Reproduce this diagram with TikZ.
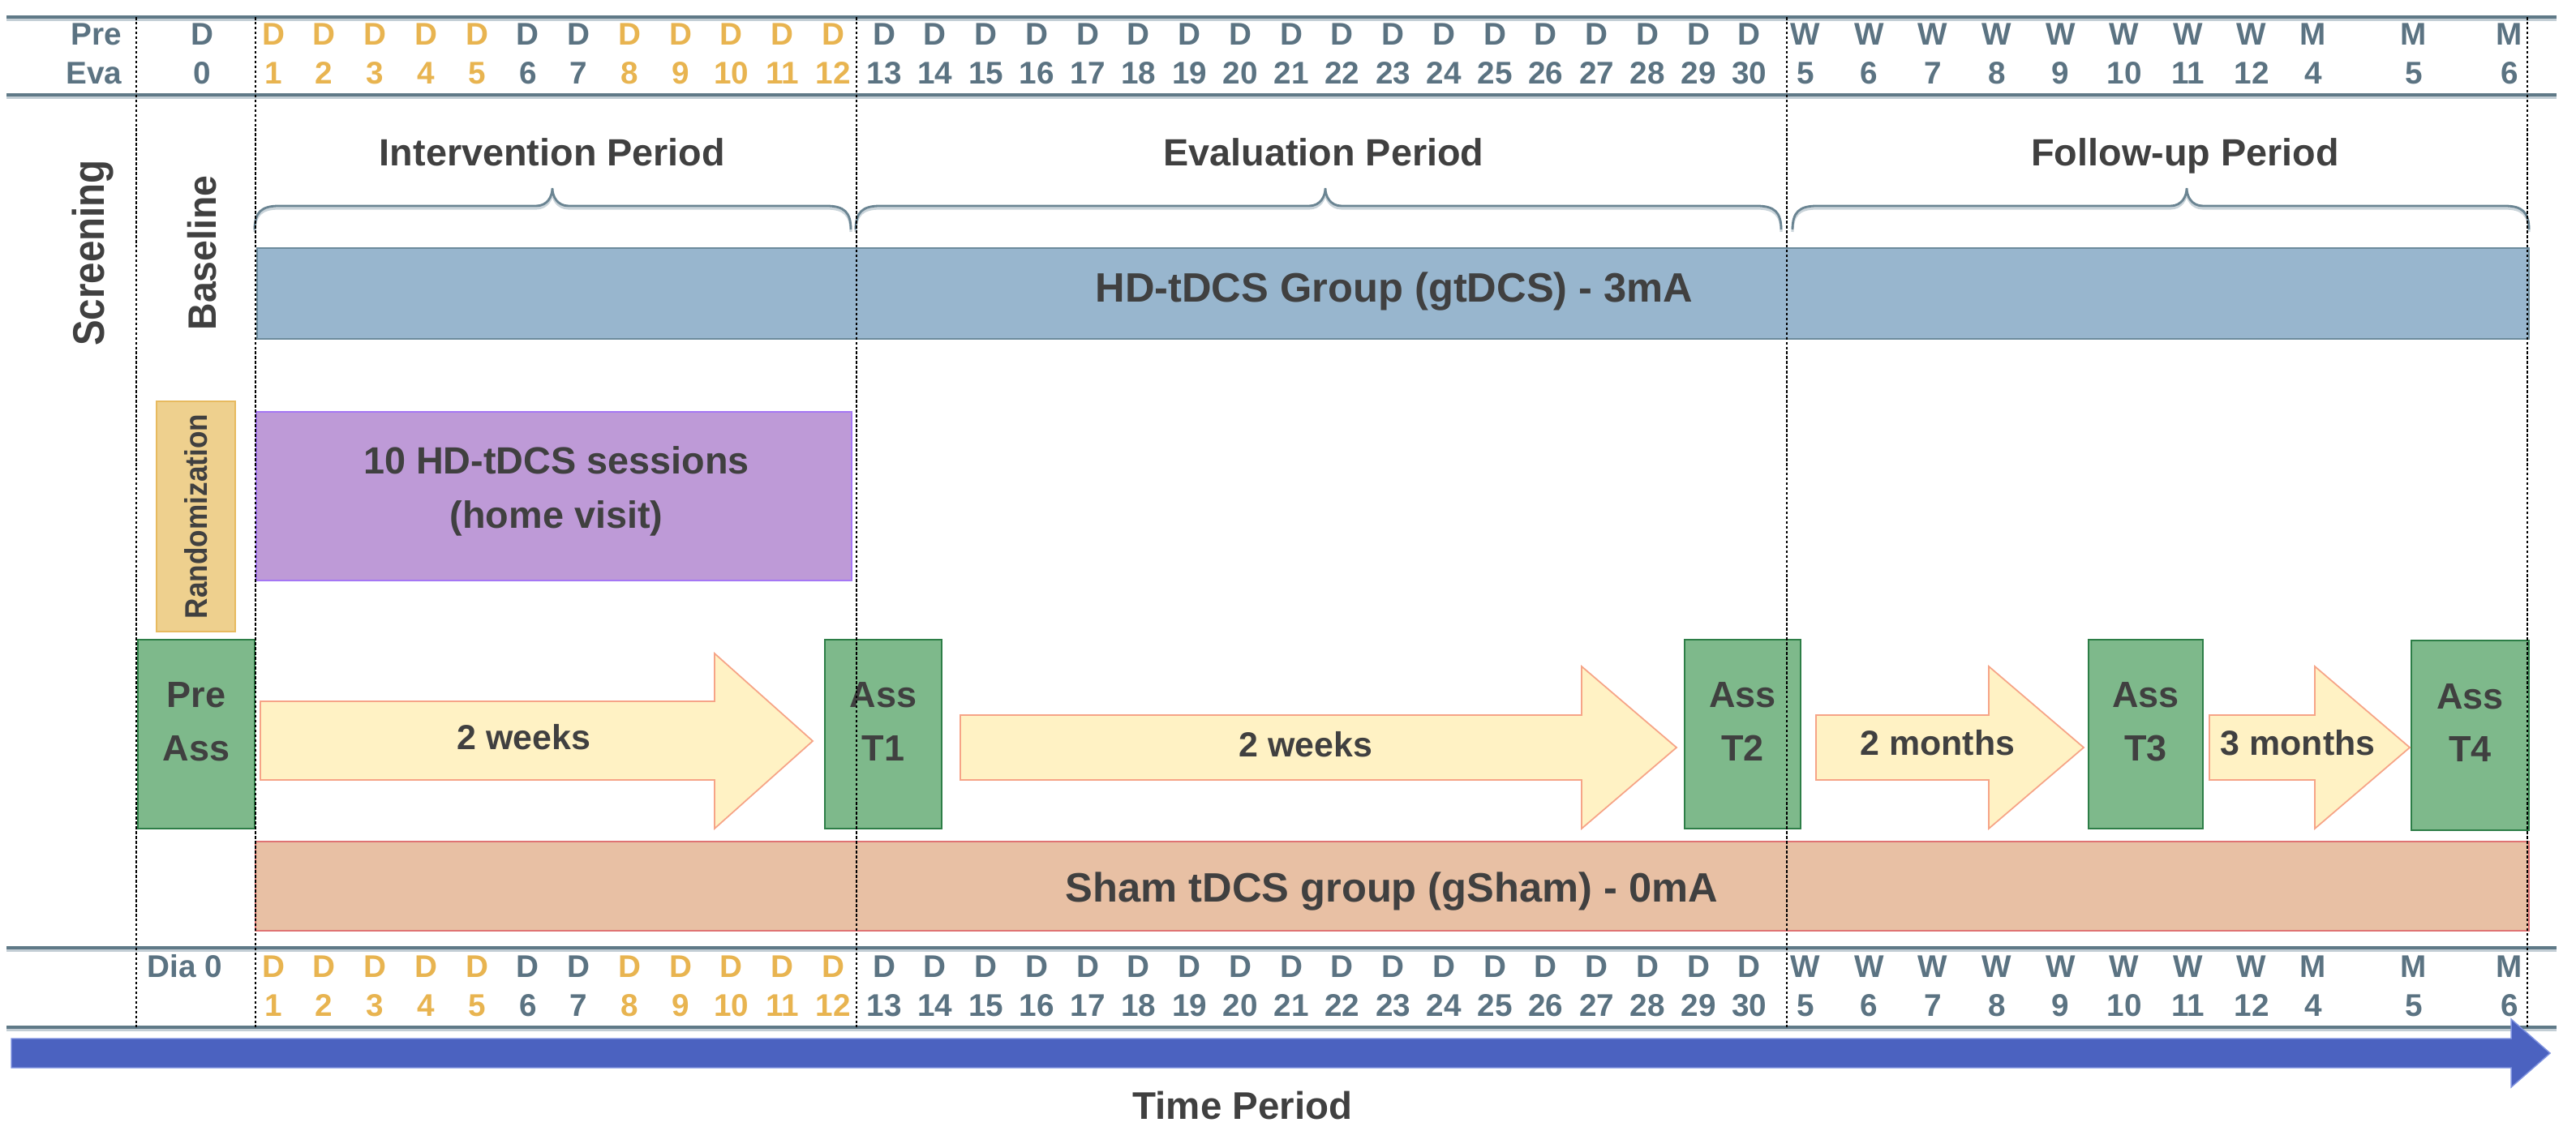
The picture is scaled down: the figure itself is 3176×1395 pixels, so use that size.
\documentclass[tikz,border=0pt]{standalone}
\usepackage{fontspec}
\setmainfont{Liberation Sans}
\usepackage{graphicx}
\usetikzlibrary{fit}
\definecolor{hdrgrey}{HTML}{5B7382}
\definecolor{hdrorange}{HTML}{E8B450}
\definecolor{linegrey}{HTML}{5F7987}
\definecolor{lineshadow}{HTML}{C3CED5}
\definecolor{txt}{HTML}{404040}
\definecolor{bluefill}{HTML}{98B6CE}
\definecolor{blueedge}{HTML}{6C8B9C}
\definecolor{purplefill}{HTML}{BE9AD7}
\definecolor{purpleedge}{HTML}{A577F4}
\definecolor{randfill}{HTML}{EED08E}
\definecolor{randedge}{HTML}{E7BA5F}
\definecolor{greenfill}{HTML}{7EB98B}
\definecolor{greenedge}{HTML}{2D7E47}
\definecolor{arrowfill}{HTML}{FFF2C4}
\definecolor{arrowedge}{HTML}{F6A487}
\definecolor{shamfill}{HTML}{E8C0A4}
\definecolor{shamedge}{HTML}{DF7373}
\definecolor{timeblue}{HTML}{4B62C0}
\definecolor{timeedge}{HTML}{7F93E0}
\definecolor{bracecol}{HTML}{6A8492}
\definecolor{braceshadow}{HTML}{CAD4DA}
\newcommand\tlbrace[3]{%
  \draw[braceshadow, line width=0.9pt] (#1,286) .. controls (#1,265) and (#1+8,257) .. (#1+30,257) -- (#2-20,257) .. controls (#2-6,257) and (#2,245) .. (#2,235) .. controls (#2,245) and (#2+6,257) .. (#2+20,257) -- (#3-30,257) .. controls (#3-8,257) and (#3,265) .. (#3,286);
  \draw[bracecol, line width=0.8pt] (#1,283) .. controls (#1,262) and (#1+8,254) .. (#1+30,254) -- (#2-20,254) .. controls (#2-6,254) and (#2,242) .. (#2,232) .. controls (#2,242) and (#2+6,254) .. (#2+20,254) -- (#3-30,254) .. controls (#3-8,254) and (#3,262) .. (#3,283);
}
\begin{document}
\begin{tikzpicture}[x=0.01cm,y=-0.01cm,
  hdr/.style={inner sep=0pt, font=\bfseries\fontsize{11}{13}\selectfont, text=hdrgrey},
  hline/.style={line width=0.9pt, draw=linegrey},
  hshadow/.style={line width=0.9pt, draw=lineshadow},
  vline/.style={line width=0.5pt, black, dash pattern=on 1pt off 0.7pt},
  period/.style={inner sep=0pt, text=txt, font=\bfseries\fontsize{13.3}{15}\selectfont},
  phase/.style={inner sep=0pt, text=txt, rotate=90},
  barbox/.style={inner sep=0pt, line width=0.6pt},
  bartext/.style={inner sep=0pt, text=txt, font=\bfseries\fontsize{14.4}{17}\selectfont},
  greenbox/.style={inner sep=0pt, line width=0.6pt, draw=greenedge, fill=greenfill, text=txt, align=center, font=\bfseries\fontsize{12.8}{18.7}\selectfont},
  blockarrow/.style={fill=arrowfill, draw=arrowedge, line width=0.5pt, line join=miter},
  arrowtext/.style={inner sep=0pt, text=txt, font=\bfseries\fontsize{12.2}{14}\selectfont}]
\useasboundingbox (0,0) rectangle (3176,1395);

% header lines
\foreach \yy in {21,117,1169,1267} {
  \draw[hshadow] (8,\yy+3) -- (3152,\yy+3);
  \draw[hline] (8,\yy) -- (3152,\yy);
}

% header texts
\node[hdr, anchor=east] (pre) at (151,42) {Pre};
\node[hdr, anchor=east] (eva) at (151,90) {Eva};
\node[hdr] (d0) at (249,42) {D};
\node[hdr] (n0) at (249,90) {0};
\node[hdr] (dia) at (228,1192) {Dia 0};
\foreach \i in {1,...,30} {
  \pgfmathsetmacro{\xx}{337+(\i-1)*62.75}
  \def\col{hdrgrey}
  \ifnum\i<6 \def\col{hdrorange}\fi
  \ifnum\i>7 \ifnum\i<13 \def\col{hdrorange}\fi\fi
  \node[hdr, text=\col] (tD\i) at (\xx,42) {D};
  \node[hdr, text=\col] (tN\i) at (\xx,90) {\i};
  \node[hdr, text=\col] (bD\i) at (\xx,1192) {D};
  \node[hdr, text=\col] (bN\i) at (\xx,1240) {\i};
}
\foreach \w in {5,...,12} {
  \pgfmathsetmacro{\xx}{2226+(\w-5)*78.6}
  \node[hdr] (tW\w) at (\xx,42) {W};
  \node[hdr] (tWn\w) at (\xx,90) {\w};
  \node[hdr] (bW\w) at (\xx,1192) {W};
  \node[hdr] (bWn\w) at (\xx,1240) {\w};
}
\foreach \m/\xx in {4/2852,5/2976,6/3094} {
  \node[hdr] (tM\m) at (\xx,42) {M};
  \node[hdr] (tMn\m) at (\xx,90) {\m};
  \node[hdr] (bM\m) at (\xx,1192) {M};
  \node[hdr] (bMn\m) at (\xx,1240) {\m};
}

% phase labels
\node[phase, font=\bfseries\fontsize{13.5}{15}\selectfont] (screening) at (115,312) {\scalebox{1}[1.15]{Screening}};
\node[phase, font=\bfseries\fontsize{13.2}{15}\selectfont] (baseline) at (249,312) {\scalebox{1}[1.05]{Baseline}};

% period labels and braces
\node[period, anchor=base] (intper) at (681,205) {Intervention Period};
\node[period, anchor=base] (evaper) at (1632,205) {Evaluation Period};
\node[period, anchor=base] (folper) at (2694,205) {Follow-up Period};
\tlbrace{314}{681}{1049}
\tlbrace{1055}{1634}{2196}
\tlbrace{2210}{2696}{3118}

% group bars
\node[barbox, draw=blueedge, fill=bluefill, fit={(317,306) (3118,418)}] (gtdcs) {};
\node[bartext, anchor=base] (gtdcslbl) at (1719,373) {HD-tDCS Group (gtDCS) - 3mA};
\node[barbox, draw=shamedge, fill=shamfill, fit={(315,1038) (3118,1148)}] (gsham) {};
\node[bartext, anchor=base] (gshamlbl) at (1716,1112) {Sham tDCS group (gSham) - 0mA};

% randomization and sessions
\node[barbox, draw=randedge, fill=randfill, fit={(193,495) (290,779)}] (rand) {};
\node[phase, font=\bfseries\fontsize{10}{12}\selectfont] (randlbl) at (242,637) {\scalebox{1}[1.1]{Randomization}};
\node[barbox, draw=purpleedge, fill=purplefill, fit={(316,508) (1050,716)}] (sessions) {};
\node[inner sep=0pt, text=txt, align=center, font=\bfseries\fontsize{13.3}{19}\selectfont] (sesslbl) at (686,606) {10 HD-tDCS sessions\\(home visit)};

% assessments
\node[greenbox, fit={(170,789) (314,1022)}] (preass) {Pre\\Ass};
\node[greenbox, fit={(1017,789) (1161,1022)}] (asst1) {Ass\\T1};
\node[greenbox, fit={(2077,789) (2220,1022)}] (asst2) {Ass\\T2};
\node[greenbox, fit={(2575,789) (2716,1022)}] (asst3) {Ass\\T3};
\node[greenbox, fit={(2973,790) (3118,1024)}] (asst4) {Ass\\T4};

% block arrows
\draw[blockarrow] (321,865) -- (881,865) -- (881,806) -- (1002,914) -- (881,1022) -- (881,962) -- (321,962) -- cycle;
\node[arrowtext] (w1) at (646,909) {2 weeks};
\draw[blockarrow] (1184,882) -- (1950,882) -- (1950,822) -- (2067,922) -- (1950,1022) -- (1950,962) -- (1184,962) -- cycle;
\node[arrowtext] (w2) at (1610,918) {2 weeks};
\draw[blockarrow] (2239,882) -- (2452,882) -- (2452,822) -- (2569,922) -- (2452,1022) -- (2452,962) -- (2239,962) -- cycle;
\node[arrowtext] (m2) at (2389,916) {2 months};
\draw[blockarrow] (2724,882) -- (2854,882) -- (2854,822) -- (2971,922) -- (2854,1022) -- (2854,962) -- (2724,962) -- cycle;
\node[arrowtext] (m3) at (2833,916) {3 months};

% vertical dashed lines
\foreach \xx in {168,315,1056,2203,3116} {
  \draw[vline] (\xx,21) -- (\xx,1267);
}

% time arrow
\draw[fill=timeblue, draw=timeedge, line width=0.4pt] (14,1281) -- (3096,1281) -- (3096,1257) -- (3144,1299) -- (3096,1341) -- (3096,1317) -- (14,1317) -- cycle;
\node[inner sep=0pt, text=txt, font=\bfseries\fontsize{13.5}{15}\selectfont] (timelbl) at (1532,1364) {Time Period};
\end{tikzpicture}
\end{document}
